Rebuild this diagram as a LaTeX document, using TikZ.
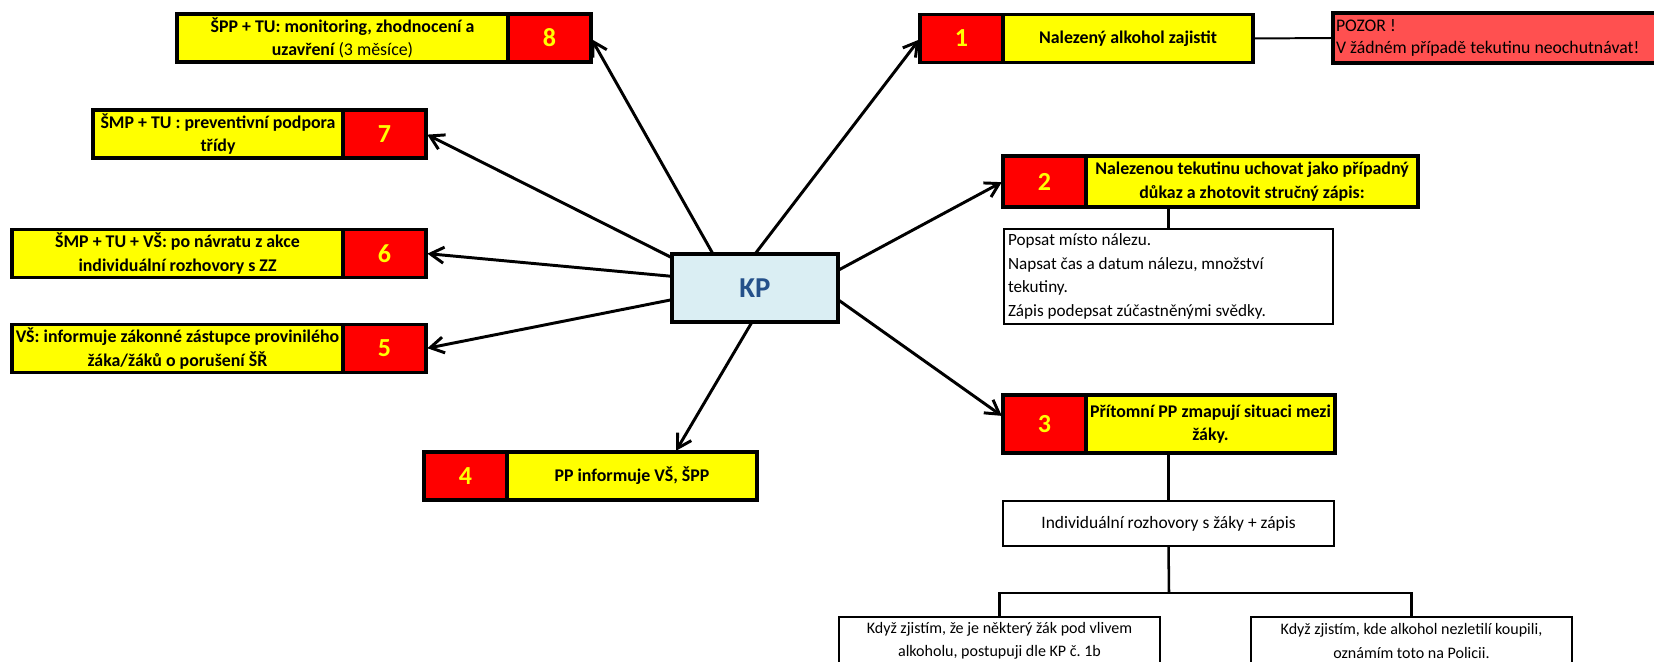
\documentclass[tikz,border=0pt]{standalone}
\usepackage{fontspec}
\setmainfont{Carlito}
\frenchspacing
\usetikzlibrary{positioning, arrows.meta}
\definecolor{boxyellow}{RGB}{255,255,0}
\definecolor{boxred}{RGB}{255,0,0}
\definecolor{warnred}{RGB}{255,80,80}
\definecolor{kpfill}{RGB}{218,238,243}
\definecolor{kptext}{RGB}{36,80,138}
\newcommand\pxu{0.025cm}
\tikzset{
every node/.style={inner sep=0pt, outer sep=0pt},
stepbox/.style={draw, line width=2.5pt, fill=boxyellow, align=center, minimum height=48*\pxu, font=\bfseries\fontsize{12.7}{16.6}\selectfont}, % yellow step text
numbox/.style={draw, line width=2.5pt, fill=boxred, text=boxyellow, minimum width=83*\pxu, minimum height=48*\pxu, font=\bfseries\fontsize{18.5}{20}\selectfont}, % red step number
notebox/.style={draw, line width=1.7pt, fill=white, font=\fontsize{12.2}{16.7}\selectfont}, % plain white boxes
pointer/.style={-{Straight Barb[length=3.4mm,width=4mm]}, line width=2.1pt, shorten >=1pt}, % arrows out of KP
link/.style={line width=1.8pt}, % tree lines
}

\begin{document}
\begin{tikzpicture}[x=\pxu, y=-\pxu]
\useasboundingbox (0,0) rectangle (1654,662);

% centre
\node[draw, line width=2.6pt, fill=kpfill, text=kptext, minimum width=166*\pxu, minimum height=68*\pxu, font=\bfseries\fontsize{20.5}{22}\selectfont] (kp) at (755,288) {KP};

% left steps
\node[stepbox, minimum width=331*\pxu] (t8) at (342.5,38) {ŠPP + TU: monitoring, zhodnocení a\\uzavření {\mdseries(3 měsíce)}};
\node[numbox, right=0pt of t8] (n8) {8};
\node[stepbox, minimum width=250*\pxu] (t7) at (218,134) {ŠMP + TU : preventivní podpora\\třídy};
\node[numbox, right=0pt of t7] (n7) {7};
\node[stepbox, minimum width=331*\pxu] (t6) at (177.5,253.5) {ŠMP + TU + VŠ: po návratu z akce\\individuální rozhovory s ZZ};
\node[numbox, right=0pt of t6] (n6) {6};
\node[stepbox, minimum width=331*\pxu] (t5) at (177.5,348.5) {VŠ: informuje zákonné zástupce provinilého\\žáka/žáků o porušení ŠŘ};
\node[numbox, right=0pt of t5] (n5) {5};
\node[numbox] (n4) at (465.5,476) {4};
\node[stepbox, minimum width=250*\pxu, right=0pt of n4] (t4) {PP informuje VŠ, ŠPP};

% right steps
\node[numbox] (n1) at (961.5,38.5) {1};
\node[stepbox, minimum width=250*\pxu, right=0pt of n1] (t1) {Nalezený alkohol zajistit};
\node[notebox, fill=warnred, line width=2.5pt, anchor=west, align=flush left, text width=414*\pxu, inner xsep=3*\pxu, minimum height=50*\pxu, font=\fontsize{12.6}{15.5}\selectfont] (pozor) at (1333,38) {POZOR !\\V žádném případě tekutinu neochutnávat!};
\node[numbox, minimum height=51*\pxu] (n2) at (1044.5,181.5) {2};
\node[stepbox, minimum width=332*\pxu, minimum height=51*\pxu, right=0pt of n2] (t2) {Nalezenou tekutinu uchovat jako případný\\důkaz a zhotovit stručný zápis:};
\node[notebox, align=flush left, text width=321*\pxu, inner xsep=4*\pxu, minimum height=95*\pxu] (notes) at (1168.5,276.5) {Popsat místo nálezu.\\Napsat čas a datum nálezu, množství\\tekutiny.\\Zápis podepsat zúčastněnými svědky.};
\node[numbox, minimum height=58*\pxu] (n3) at (1044.5,424) {3};
\node[stepbox, minimum width=249*\pxu, minimum height=58*\pxu, right=0pt of n3] (t3) {Přítomní PP zmapují situaci mezi\\žáky.};
\node[notebox, minimum width=331*\pxu, minimum height=45*\pxu, font=\fontsize{12.4}{16.7}\selectfont] (indiv) at (1168.5,523.5) {Individuální rozhovory s žáky + zápis};
\node[notebox, align=center, minimum width=321*\pxu, minimum height=48*\pxu, font=\fontsize{11.4}{16.4}\selectfont] (k1) at (999.5,641) {Když zjistím, že je některý žák pod vlivem\\alkoholu, postupuji dle KP č. 1b};
\node[notebox, align=center, minimum width=321*\pxu, minimum height=48*\pxu, font=\fontsize{11.4}{16.4}\selectfont] (k2) at (1411.5,641) {Když zjistím, kde alkohol nezletilí koupili,\\oznámím toto na Policii.};
\coordinate (fork) at (1169,593);

% arrows
\draw[pointer] (kp.141) -- (n8.east);
\draw[pointer] (kp.90) -- (n1.west);
\draw[pointer] (kp.160) -- (n7.east);
\draw[pointer] (kp.172) -- (n6.east);
\draw[pointer] (kp.188) -- (n5.east);
\draw[pointer] (kp.265) -- (t4.29);
\draw[pointer] (kp.12) -- (n2.west);
\draw[pointer] (kp.352) -- (n3.170);

% lines
\draw[line width=1.4pt] (t1.east) -- (pozor.west);
\draw[link] (notes.north) -- (notes.north |- t2.south);
\draw[link] (indiv.north) -- (indiv.north |- t3.south);
\draw[link] (indiv.south) -- (fork);
\draw[link] (k1.north) |- (fork) -| (k2.north);
\end{tikzpicture}
\end{document}
